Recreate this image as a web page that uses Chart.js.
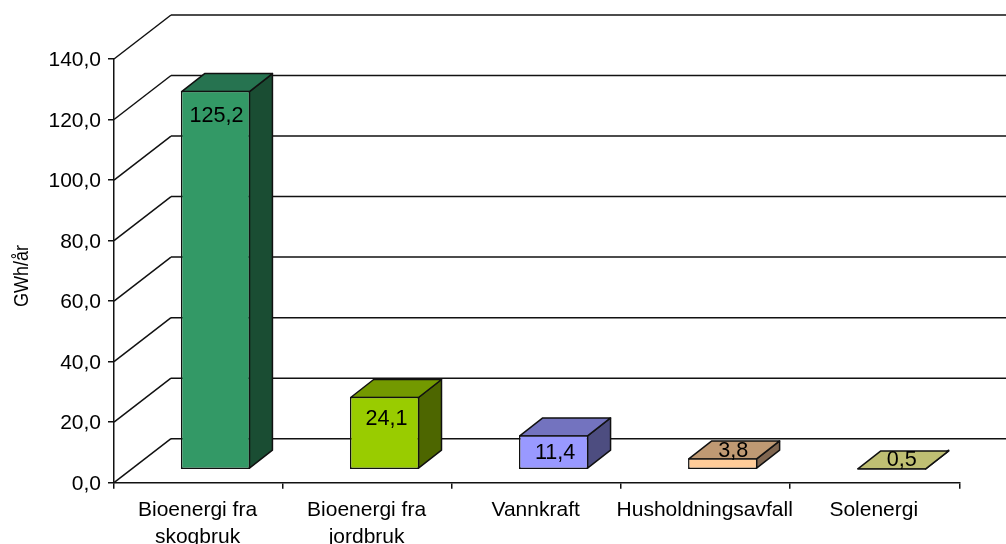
<!DOCTYPE html>
<html>
<head>
<meta charset="utf-8">
<title>GWh/år</title>
<script src="https://cdn.jsdelivr.net/npm/chart.js@4"></script>
<style>
html, body { margin: 0; padding: 0; background: #fff; overflow: hidden; }
canvas { display: block; }
</style>
</head>
<body>
<canvas id="barChart" width="1006" height="544"></canvas>
<script>
// Energy sources and their yearly output
const categories = [['Bioenergi fra', 'skogbruk'], ['Bioenergi fra', 'jordbruk'], 'Vannkraft', 'Husholdningsavfall', 'Solenergi'];
const values = [125.2, 24.1, 11.4, 3.8, 0.5];
const frontColors = ['#339966', '#99CC00', '#9999FF', '#FFCC99', '#FFFF99'];
const topColors = ['#267350', '#739900', '#7373BF', '#BF9973', '#BFBF73'];
const sideColors = ['#1A4D33', '#4D6600', '#4D4D80', '#806650', '#80804D'];
const axisTitle = 'GWh/år';

const fontName = '"Liberation Sans", Arial, sans-serif';
const fontSize = 21;
const valueFontSize = 21.6;
const strokeWidth = 1.5;
const strokeColor = '#111';

// Depth of the whole box and of a single bar, and where the bars stand in it
const wallDepth = { x: 57, y: -44 };
const barDepth = { x: 23, y: -18 };
const barShift = { x: 17, y: -13 };

// Value labels: tall bars carry them on the front face, flat ones on the top face
const labelNudge = [[1, 25.5], [2, 22], [1.5, 18], [10.5, -7], [10, -8]];

const comma = (v, digits) => v.toFixed(digits).replace('.', ',');

function line(ctx, x1, y1, x2, y2) {
    ctx.beginPath();
    ctx.moveTo(x1, y1);
    ctx.lineTo(x2, y2);
    ctx.stroke();
}

function face(ctx, points, fill) {
    ctx.beginPath();
    points.forEach(function (p, i) {
        if (i === 0) ctx.moveTo(p[0], p[1]);
        else ctx.lineTo(p[0], p[1]);
    });
    ctx.closePath();
    ctx.fillStyle = fill;
    ctx.fill();
    ctx.stroke();
}

const box3d = {
    id: 'box3d',
    // Back wall gridlines and the slanted lines running up from the axis
    beforeDatasetsDraw(chart) {
        const ctx = chart.ctx;
        const y = chart.scales.y;
        const left = chart.chartArea.left;
        ctx.save();
        ctx.strokeStyle = strokeColor;
        ctx.lineWidth = strokeWidth;
        y.ticks.forEach(function (tick) {
            const py = y.getPixelForValue(tick.value);
            line(ctx, left, py, left + wallDepth.x, py + wallDepth.y);
            line(ctx, left + wallDepth.x, py + wallDepth.y, chart.width, py + wallDepth.y);
        });
        ctx.restore();
    },
    // Side and top faces go first, the bar element itself is the front face
    beforeDatasetDraw(chart, args) {
        const ctx = chart.ctx;
        ctx.save();
        ctx.translate(barShift.x, barShift.y);
        ctx.strokeStyle = strokeColor;
        ctx.lineWidth = strokeWidth;
        ctx.lineJoin = 'round';
        args.meta.data.forEach(function (bar, i) {
            const inset = strokeWidth / 2;
            const l = bar.x - bar.width / 2 + inset;
            const r = bar.x + bar.width / 2 - inset;
            const top = bar.y + inset;
            const base = bar.base - inset;
            const dx = barDepth.x;
            const dy = barDepth.y;
            face(ctx, [[r, top], [r + dx, top + dy], [r + dx, base + dy], [r, base]], sideColors[i]);
            face(ctx, [[l, top], [l + dx, top + dy], [r + dx, top + dy], [r, top]], topColors[i]);
        });
    },
    afterDatasetDraw(chart) {
        chart.ctx.restore();
    },
    // Value labels and the rotated axis title, which runs a little condensed
    afterDatasetsDraw(chart) {
        const ctx = chart.ctx;
        const meta = chart.getDatasetMeta(0);
        ctx.save();
        ctx.fillStyle = '#000';
        ctx.font = valueFontSize + 'px ' + fontName;
        ctx.textAlign = 'center';
        ctx.textBaseline = 'middle';
        meta.data.forEach(function (bar, i) {
            const px = bar.x + barShift.x + labelNudge[i][0];
            const py = bar.y + barShift.y + labelNudge[i][1];
            ctx.fillText(comma(values[i], 1), px, py);
        });
        ctx.translate(28, 276);
        ctx.rotate(-Math.PI / 2);
        ctx.scale(0.88, 1);
        ctx.font = '20.5px ' + fontName;
        ctx.textBaseline = 'alphabetic';
        ctx.fillText(axisTitle, 0, 0);
        ctx.restore();
    }
};

const barChartCtx = document.getElementById('barChart').getContext('2d');
new Chart(barChartCtx, {
    type: 'bar',
    data: {
        labels: categories,
        datasets: [{
            data: values,
            backgroundColor: frontColors,
            borderColor: strokeColor,
            borderWidth: strokeWidth,
            borderSkipped: false,
            categoryPercentage: 1,
            barPercentage: 0.41,
            clip: false
        }]
    },
    options: {
        responsive: false,
        animation: false,
        layout: { padding: { top: 59, right: 46.7, left: 0, bottom: 0 } },
        plugins: {
            legend: { display: false },
            tooltip: { enabled: false }
        },
        scales: {
            x: {
                afterFit(scale) { scale.height = 61.3; },
                grid: { drawOnChartArea: false, color: strokeColor, tickLength: 6, lineWidth: strokeWidth },
                border: { color: strokeColor, width: strokeWidth },
                ticks: {
                    color: '#000',
                    font: { family: fontName, size: fontSize, lineHeight: 1.27 },
                    maxRotation: 0,
                    autoSkip: false,
                    padding: 8,
                    labelOffset: -1
                }
            },
            y: {
                min: 0,
                max: 140,
                afterFit(scale) { scale.width = 114; },
                grid: { drawOnChartArea: false, color: strokeColor, tickLength: 6, lineWidth: strokeWidth },
                border: { color: strokeColor, width: strokeWidth },
                ticks: {
                    stepSize: 20,
                    color: '#000',
                    font: { family: fontName, size: fontSize },
                    padding: 7,
                    labelOffset: 1.5,
                    callback: function (value) { return comma(value, 1); }
                }
            }
        }
    },
    plugins: [box3d]
});
</script>
</body>
</html>
